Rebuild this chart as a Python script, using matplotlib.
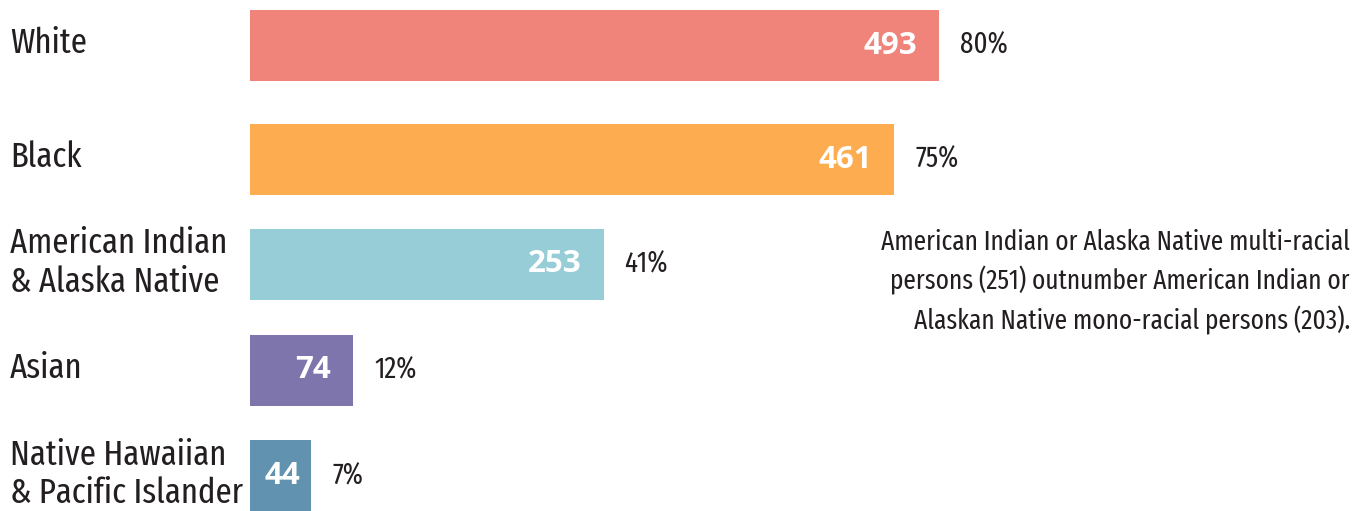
import matplotlib
matplotlib.use("Agg")
from matplotlib import pyplot as plt
import matplotlib.transforms as mtransforms

categories = ["White", "Black", "American Indian\n& Alaska Native", "Asian",
              "Native Hawaiian\n& Pacific Islander"]
counts = [493, 461, 253, 74, 44]
percents = ["80%", "75%", "41%", "12%", "7%"]
colors = ["#F0837A", "#FDAD50", "#96CDD6", "#7E75AD", "#6193B0"]
note = ("American Indian or Alaska Native multi-racial\n"
        "persons (251) outnumber American Indian or\n"
        "Alaskan Native mono-racial persons (203).")

# layout (pixel units of the 1356x511 canvas)
W, H = 1356, 511
ypos = [45.5, 159.5, 264.5, 370.5, 476]
bar_h = 71
scale = 1.3976  # px per person
x0 = 250

text_color = "#231F20"
narrow = ["Fira Sans Extra Condensed", "DejaVu Sans"]
bold = ["Open Sans", "DejaVu Sans"]

fig = plt.figure(figsize=(W / 100, H / 100), dpi=100)
ax = fig.add_axes([0, 0, 1, 1])
ax.set_xlim(-x0 / scale, (W - x0) / scale)
ax.set_ylim(H, 0)
ax.axis("off")

ax.barh(ypos, counts, height=bar_h, color=colors, left=0)

lab_tr = mtransforms.blended_transform_factory(ax.transAxes, ax.transData)
for y, cat, n, p in zip(ypos, categories, counts, percents):
    ax.text(10 / W, y - 2, cat, transform=lab_tr, ha="left", va="center",
            fontsize=25.5, family=narrow, fontweight=400, color=text_color,
            linespacing=1.17)
    if n * scale > 90:
        ax.annotate(str(n), (n, y), xytext=(-16, 0), textcoords="offset points",
                    ha="right", va="center", fontsize=22.5, fontweight="bold",
                    fontstretch="normal", family=bold, color="white")
    else:
        ax.text(n / 2 + 1, y, str(n), ha="center", va="center", fontsize=22.5,
                fontweight="bold", fontstretch="normal", family=bold, color="white")
    ax.annotate(p, (n, y), xytext=(15, 0), textcoords="offset points",
                ha="left", va="center", fontsize=21, family=narrow, fontweight=400,
                color=text_color)

fig.text(1350 / W, 1 - 282 / H, note, ha="right", va="center", fontsize=19.8,
         family=narrow, fontweight=400, color=text_color, linespacing=1.45)

fig.savefig("out.png", dpi=100)
